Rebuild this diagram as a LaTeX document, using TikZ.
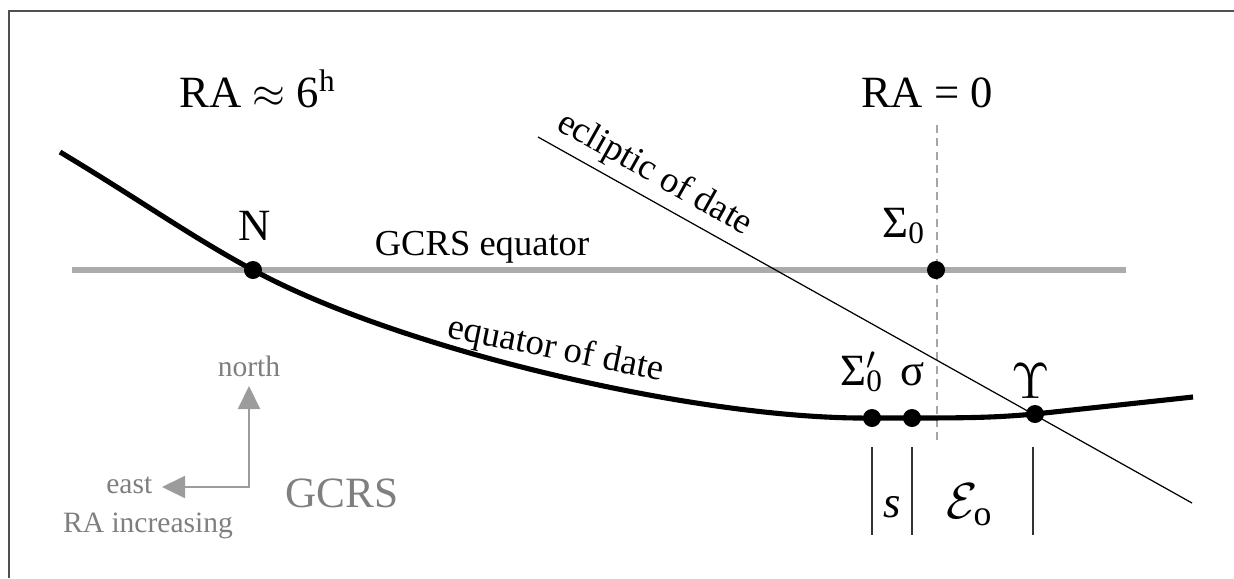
\documentclass[tikz,border=0pt]{standalone}
\usepackage{fontspec}
\setmainfont{Liberation Serif}
\usepackage{tikz}
\usetikzlibrary{arrows.meta,positioning,calc}
\definecolor{framec}{HTML}{505050}
\definecolor{gcrsline}{HTML}{ABABAB}
\definecolor{softtext}{HTML}{7F7F7F}
\definecolor{arrgray}{HTML}{9C9C9C}
\definecolor{dashgray}{HTML}{A6A6A6}
\tikzset{
  big/.style={font=\fontsize{12.7}{15}\selectfont, inner sep=0pt},
  mid/.style={font=\fontsize{10.4}{12}\selectfont, inner sep=0pt},
  small/.style={font=\fontsize{8.4}{10}\selectfont, text=softtext, inner sep=0pt},
  dot/.style={circle, fill=black, inner sep=0pt, minimum size=0.18cm},
  frameline/.style={draw=framec, line width=0.4pt},
  gcrseq/.style={draw=gcrsline, line width=1.7pt},
  dateeq/.style={draw=black, line width=1.45pt},
  ecl/.style={draw=black, line width=0.35pt},
  raline/.style={draw=dashgray, line width=0.35pt, dash pattern=on 2.3pt off 1.5pt},
  tick/.style={draw=black!80, line width=0.4pt},
  compass/.style={draw=arrgray, line width=0.6pt,
    {Triangle[length=0.23cm,width=0.22cm]}-{Triangle[length=0.23cm,width=0.22cm]}},
}
\begin{document}
\begin{tikzpicture}[x=0.01cm, y=-0.01cm]
  \useasboundingbox (0,0) rectangle (1234,578);
  % frame
  \coordinate (fbl) at (9,578);
  \coordinate (ftl) at (9,11);
  \coordinate (ftr) at (1234,11);
  \draw[frameline] (fbl) -- (ftl) -- (ftr);
  % points on the circles
  \coordinate (eqs) at (60,152);
  \coordinate (eqe) at (1193,397);
  \coordinate (Np) at (253,270);
  \coordinate (S0pt) at (936,270);
  \coordinate (S0ppt) at (872,418);
  \coordinate (sigpt) at (912,418);
  \coordinate (gampt) at (1035,414);
  \coordinate (gqs) at (72,270);
  \coordinate (gqe) at (1126,270);
  \coordinate (ecs) at (538,137);
  \coordinate (ece) at (1192,503);
  \coordinate (rat) at (937,125);
  \coordinate (rab) at (937,445);
  % lines
  \draw[raline] (rat) -- (rab);
  \draw[gcrseq] (gqs) -- (gqe);
  \draw[ecl] (ecs) -- (ece)
    node[mid, pos=0.16, sloped, above=2pt] (ecllbl) {ecliptic of date};
  \draw[dateeq] (eqs) .. controls (140,200) and (190,236) .. (Np)
    .. controls (400,350) and (700,420) .. (S0ppt) -- (sigpt)
    .. controls (980,418) and (1000,417) .. (gampt) -- (eqe);
  \node[dot] (N) at (Np) {};
  \node[dot] (S0) at (S0pt) {};
  \node[dot] (S0p) at (S0ppt) {};
  \node[dot] (sig) at (sigpt) {};
  \node[dot] (gam) at (gampt) {};
  % labels
  \node[big, anchor=base] (ra6) at (258,107) {RA $\approx$ 6\textsuperscript{h}};
  \node[big, anchor=base] (ra0) at (927,107) {RA = 0};
  \node[big, anchor=base] (Nlbl) at (255,240) {N};
  \node[mid, anchor=base] (gqlbl) at (482,255) {GCRS equator};
  \node[mid, anchor=base, rotate=-11.5] (eqlbl) at (554,359) {equator of date};
  \node[big, anchor=base] (S0lbl) at (904,237) {Σ\textsubscript{0}};
  \node[big, anchor=base] (S0plbl) at (862,385) {Σ\rlap{\textsuperscript{$\prime$}}\textsubscript{0}};
  \node[big, anchor=base] (siglbl) at (913,385) {σ};
  \node[big, anchor=base, font=\fontsize{14}{16}\selectfont] (gamlbl) at (1031,398) {$\Upsilon$};
  % arcs along the equator of date
  \draw[tick] (S0p) ++(0,29) -- ++(0,88);
  \draw[tick] (sig) ++(0,29) -- ++(0,88);
  \draw[tick] (gam) ++(-2,33) -- ++(0,88);
  \node[big, anchor=base] (slbl) at (892,517) {\textit{s}};
  \node[big, anchor=base, font=\fontsize{14.5}{17}\selectfont] (eolbl) at (970,518) {$\mathcal{E}_{\mathrm{o}}$};
  % directions
  \coordinate (cmp) at (249,487);
  \coordinate (cn) at (249,386);
  \coordinate (ce) at (162,487);
  \draw[compass] (cn) -- (cmp) -- (ce);
  \node[small, anchor=base] (northlbl) at (249,376) {north};
  \node[small, anchor=base east] (eastlbl) at (153,493) {east};
  \node[small, anchor=base] (ralbl) at (148,532) {RA increasing};
  \node[big, anchor=base, text=softtext, font=\fontsize{12.3}{15}\selectfont] (gcrslbl) at (342,507) {GCRS};
\end{tikzpicture}
\end{document}
